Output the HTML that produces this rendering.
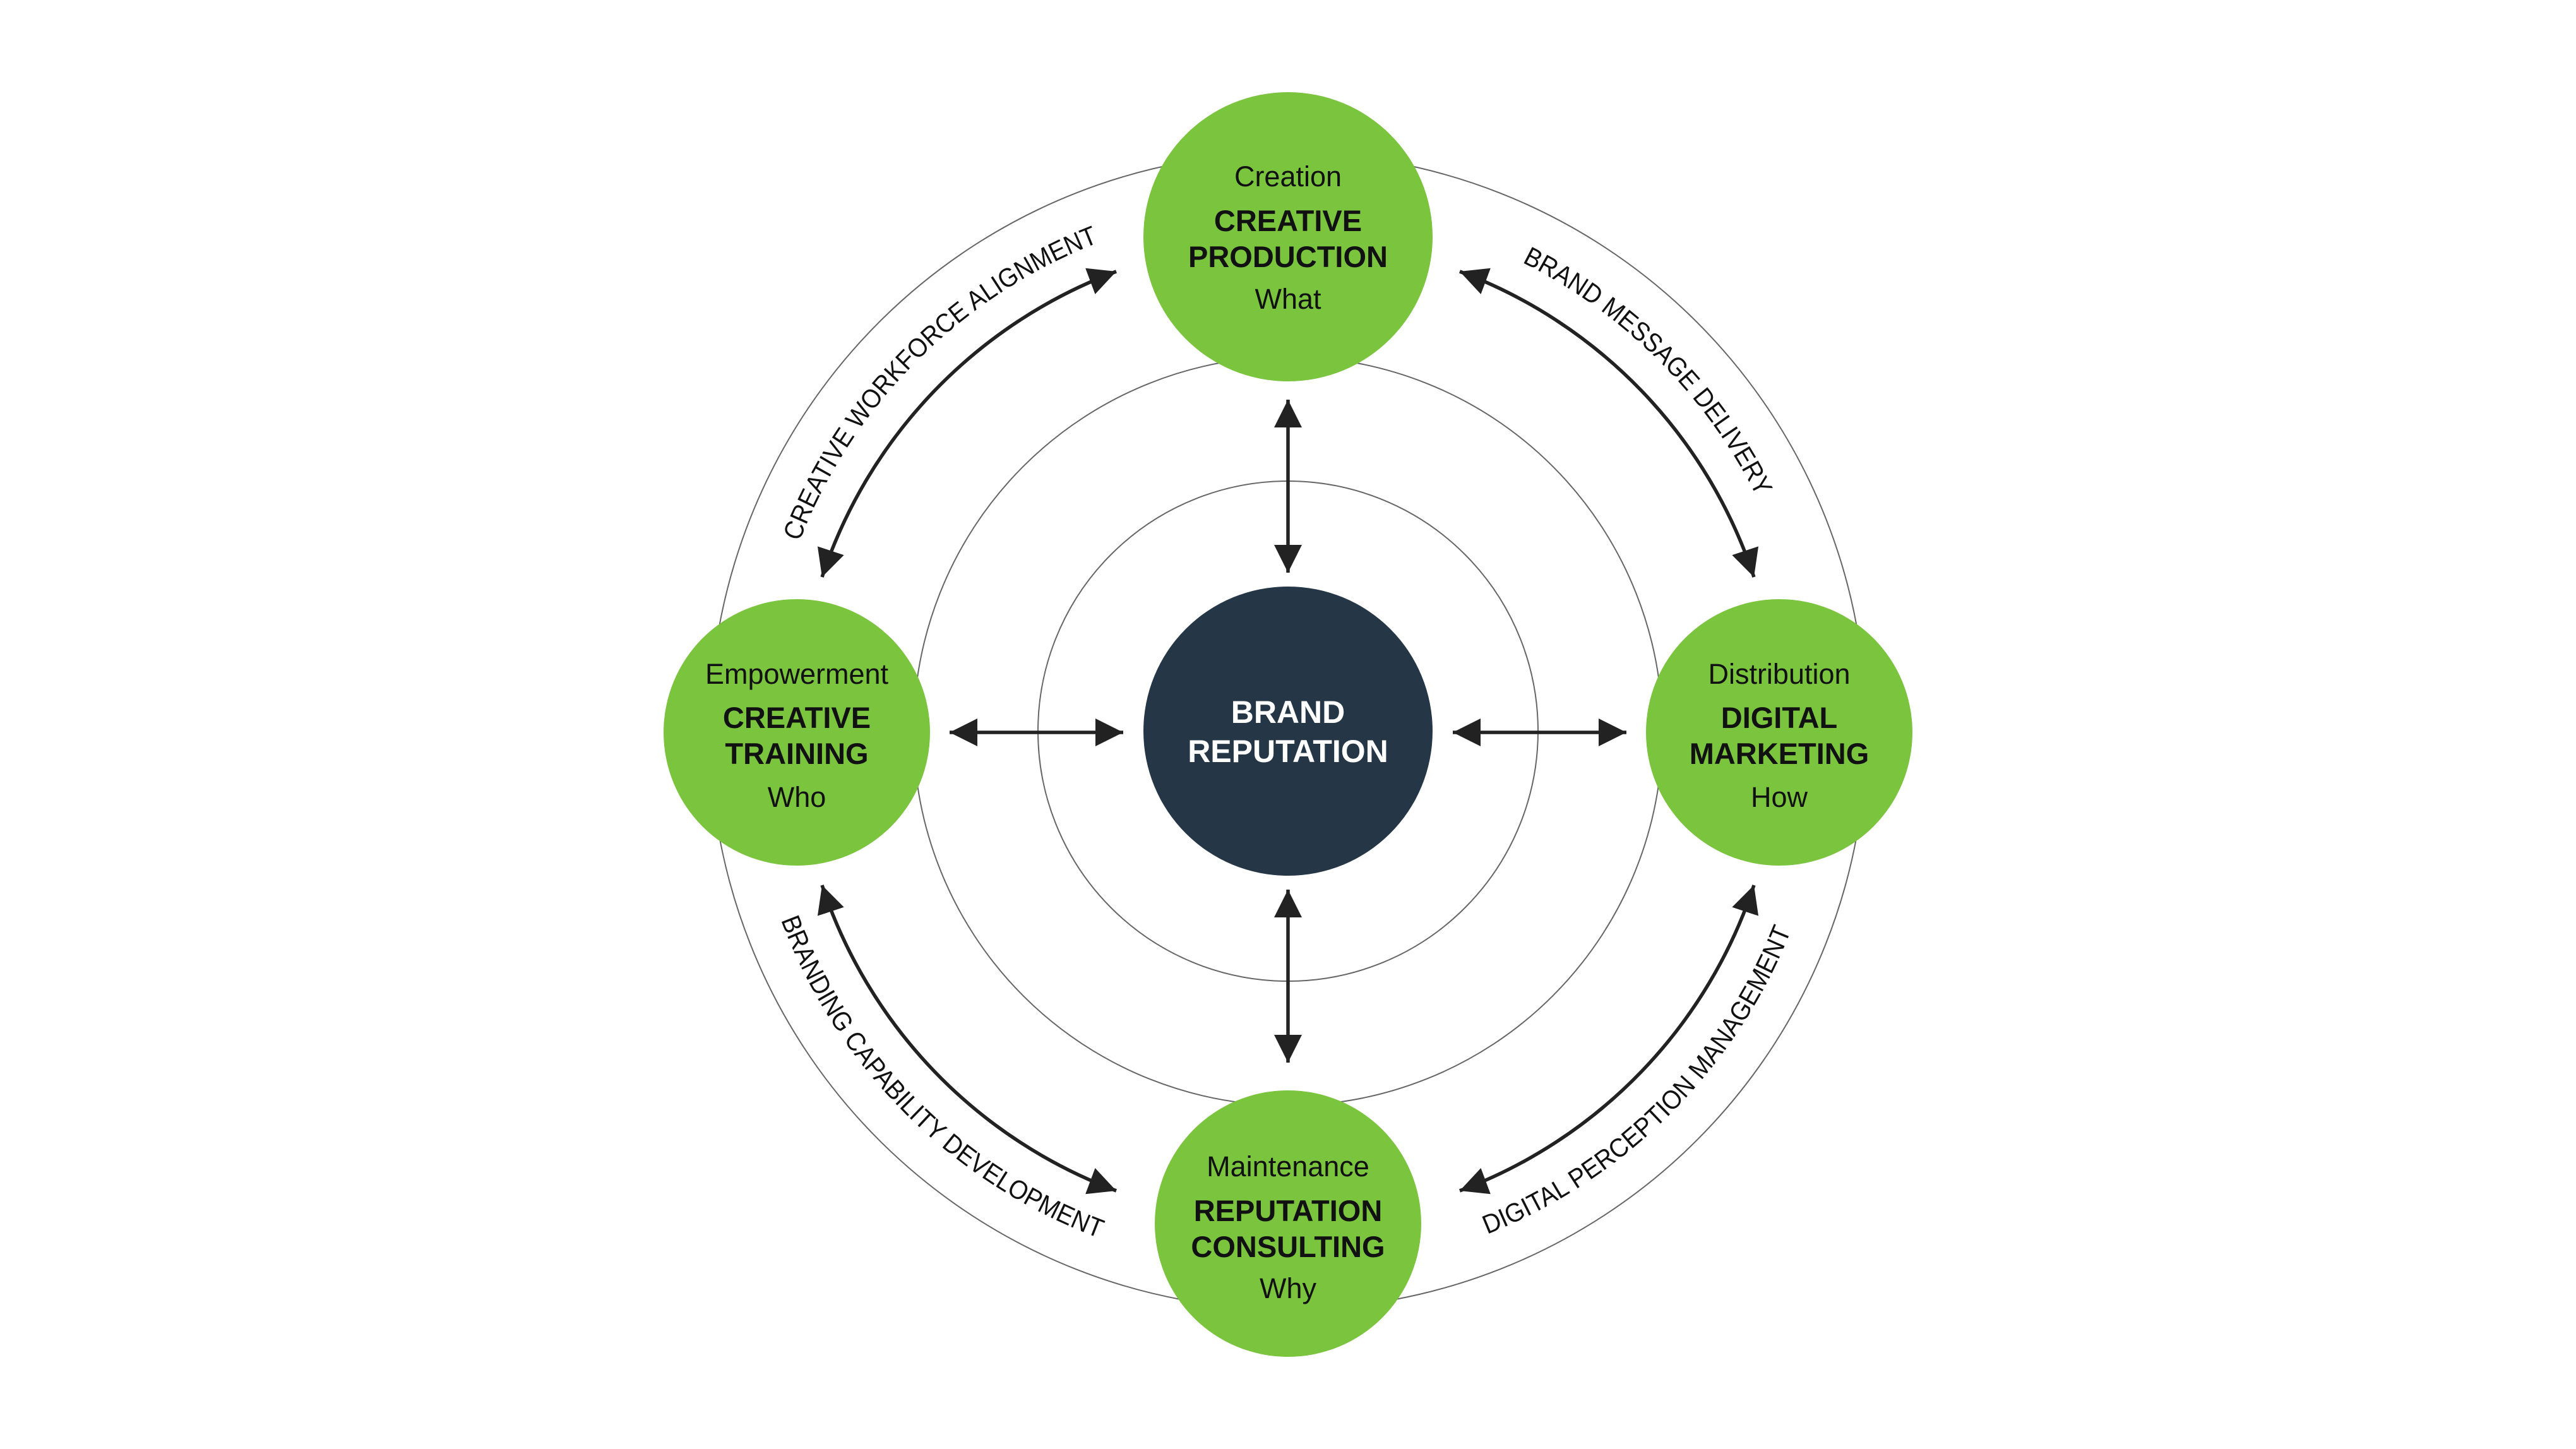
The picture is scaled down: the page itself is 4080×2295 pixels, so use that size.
<!DOCTYPE html>
<html><head><meta charset="utf-8"><style>
html,body{margin:0;padding:0;background:#fff;}
svg{display:block;}
</style></head><body>
<svg width="4080" height="2295" viewBox="0 0 4080 2295" xmlns="http://www.w3.org/2000/svg">
<defs>
<marker id="ah" viewBox="0 0 10 10" refX="10" refY="5" markerWidth="8" markerHeight="8.5" markerUnits="strokeWidth" orient="auto-start-reverse">
<path d="M0,0 L10,5 L0,10 z" fill="#222"/>
</marker>
<path id="tr" d="M 2040 328 A 830 830 0 0 1 2870 1158"/>
<path id="tl" d="M 1210 1158 A 830 830 0 0 1 2040 328"/>
<path id="bl" d="M 1183 1158 A 857 857 0 0 0 2040 2015"/>
<path id="br" d="M 2040 2015 A 857 857 0 0 0 2897 1158"/>
</defs>
<g fill="none" stroke="#666" stroke-width="2">
<circle cx="2040" cy="1158" r="916"/>
<circle cx="2040" cy="1158" r="593"/>
<circle cx="2040" cy="1158" r="396"/>
</g>
<g stroke="#222" stroke-width="5.5" fill="none" marker-start="url(#ah)" marker-end="url(#ah)">
<line x1="2040" y1="633" x2="2040" y2="907"/>
<line x1="2040" y1="1409" x2="2040" y2="1683"/>
<line x1="1504" y1="1160" x2="1779" y2="1160"/>
<line x1="2301" y1="1160" x2="2576" y2="1160"/>
<path d="M 2312 430 A 777 777 0 0 1 2778 914"/>
<path d="M 1302 914 A 777 777 0 0 1 1768 430"/>
<path d="M 2778 1402 A 777 777 0 0 1 2312 1886"/>
<path d="M 1768 1886 A 777 777 0 0 1 1302 1402"/>
</g>
<g font-family="Liberation Sans, sans-serif" font-size="42" fill="#111">
<text><textPath href="#tr" startOffset="50%" text-anchor="middle" textLength="535" lengthAdjust="spacingAndGlyphs">BRAND MESSAGE DELIVERY</textPath></text>
<text><textPath href="#tl" startOffset="50%" text-anchor="middle" textLength="690" lengthAdjust="spacingAndGlyphs">CREATIVE WORKFORCE ALIGNMENT</textPath></text>
<text><textPath href="#bl" startOffset="50%" text-anchor="middle" textLength="735" lengthAdjust="spacingAndGlyphs">BRANDING CAPABILITY DEVELOPMENT</textPath></text>
<text><textPath href="#br" startOffset="50%" text-anchor="middle" textLength="700" lengthAdjust="spacingAndGlyphs">DIGITAL PERCEPTION MANAGEMENT</textPath></text>
</g>
<g fill="#7AC43E">
<circle cx="2040" cy="375" r="229"/>
<circle cx="1262" cy="1160" r="211"/>
<circle cx="2818" cy="1160" r="211"/>
<circle cx="2040" cy="1938" r="211"/>
</g>
<circle cx="2040" cy="1158" r="229" fill="#253746"/>
<g font-family="Liberation Sans, sans-serif" text-anchor="middle" fill="#111">
<g font-size="45">
<text x="2040" y="295">Creation</text>
<text x="2040" y="489">What</text>
<text x="1262" y="1083">Empowerment</text>
<text x="1262" y="1278">Who</text>
<text x="2818" y="1083">Distribution</text>
<text x="2818" y="1278">How</text>
<text x="2040" y="1863">Maintenance</text>
<text x="2040" y="2056">Why</text>
</g>
<g font-size="47" font-weight="bold">
<text x="2040" y="366">CREATIVE</text>
<text x="2040" y="423">PRODUCTION</text>
<text x="1262" y="1153">CREATIVE</text>
<text x="1262" y="1210">TRAINING</text>
<text x="2818" y="1153">DIGITAL</text>
<text x="2818" y="1210">MARKETING</text>
<text x="2040" y="1934">REPUTATION</text>
<text x="2040" y="1991">CONSULTING</text>
</g>
<g font-size="50" font-weight="bold" fill="#fff">
<text x="2040" y="1145">BRAND</text>
<text x="2040" y="1207">REPUTATION</text>
</g>
</g>
</svg>
</body></html>
